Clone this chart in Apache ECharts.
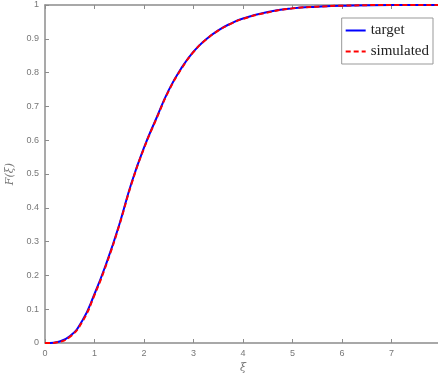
<!DOCTYPE html>
<html>
<head>
<meta charset="utf-8">
<script src="https://cdn.jsdelivr.net/npm/echarts@6/dist/echarts.min.js"></script>
<style>
  html, body { margin: 0; padding: 0; background: #fff; }
  #chart { width: 438px; height: 373px; }
</style>
</head>
<body>
<div id="chart"></div>
<script>
// 读图得到的 CDF 数据
const xi = [0, 0.1, 0.25, 0.5, 0.75, 1.0, 1.25, 1.5, 1.75, 2.0, 2.25, 2.5, 2.75, 3.0, 3.25, 3.5, 3.75, 4.0, 4.5, 5.0, 5.5, 6.0, 7.0, 8.0]
const target = [0, 0, 0.003, 0.02, 0.065, 0.145, 0.24, 0.35, 0.475, 0.578, 0.665, 0.748, 0.812, 0.862, 0.898, 0.925, 0.945, 0.96, 0.979, 0.99, 0.995, 0.998, 1.0, 1.0]
const simulated = [0, 0, 0.002, 0.018, 0.062, 0.142, 0.237, 0.348, 0.472, 0.576, 0.663, 0.746, 0.81, 0.861, 0.897, 0.924, 0.944, 0.959, 0.978, 0.99, 0.995, 0.998, 1.0, 1.0]
const xTicks = [0, 1, 2, 3, 4, 5, 6, 7]

const chart = echarts.init(document.getElementById('chart'))

const axisGray = '#8c8c8c'
const labelGray = '#777'

const option = {
  animation: false,
  grid: { left: 45, top: 5, right: -3, bottom: 30, containLabel: false, outerBoundsMode: 'none' },
  legend: {
    right: 5,
    top: 18,
    orient: 'vertical',
    itemWidth: 20,
    itemHeight: 8,
    itemGap: 6,
    padding: [5, 4, 5, 4],
    borderColor: '#999',
    borderWidth: 1,
    backgroundColor: '#fff',
    textStyle: { fontFamily: 'Liberation Serif', fontSize: 15, color: '#222' },
    data: [
      { name: 'target', icon: 'path://M0,0 L20,0 L20,2 L0,2 Z' },
      { name: 'simulated', icon: 'path://M0,0 L5,0 L5,2 L0,2 Z M8,0 L13,0 L13,2 L8,2 Z M16,0 L20,0 L20,2 L16,2 Z' }
    ]
  },
  xAxis: [
    {
      type: 'value',
      min: 0,
      max: 8,
      interval: 1,
      name: 'ξ',
      nameLocation: 'middle',
      nameGap: 20,
      nameTextStyle: { fontFamily: 'DejaVu Serif', fontStyle: 'italic', fontSize: 11, color: labelGray },
      axisLine: { show: true, lineStyle: { color: axisGray, width: 1.5 } },
      axisTick: { show: true, inside: true, length: 4, lineStyle: { color: axisGray } },
      axisLabel: {
        fontSize: 9,
        color: labelGray,
        margin: 6,
        formatter: v => (xTicks.includes(v) ? String(v) : '')
      },
      splitLine: { show: false }
    },
    {
      type: 'value',
      position: 'top',
      min: 0,
      max: 8,
      interval: 1,
      axisLine: { show: true, lineStyle: { color: axisGray, width: 1.5 } },
      axisTick: { show: true, inside: true, length: 4, lineStyle: { color: axisGray } },
      axisLabel: { show: false },
      splitLine: { show: false }
    }
  ],
  yAxis: {
    type: 'value',
    min: 0,
    max: 1,
    interval: 0.1,
    name: 'F(ξ)',
    nameLocation: 'middle',
    nameGap: 18,
    nameTextStyle: { fontFamily: 'DejaVu Serif', fontStyle: 'italic', fontSize: 11, color: labelGray },
    axisLine: { show: true, lineStyle: { color: axisGray, width: 1.5 } },
    axisTick: { show: true, inside: true, length: 4, lineStyle: { color: axisGray } },
    axisLabel: {
      fontSize: 9,
      color: labelGray,
      margin: 6,
      formatter: v => String(Math.round(v * 10) / 10)
    },
    splitLine: { show: false }
  },
  series: [
    {
      name: 'target',
      type: 'line',
      smooth: 0.5,
      showSymbol: false,
      data: xi.map((x, i) => [x, target[i]]),
      lineStyle: { color: '#0000ff', width: 2 },
      itemStyle: { color: '#0000ff' }
    },
    {
      name: 'simulated',
      type: 'line',
      smooth: 0.5,
      showSymbol: false,
      data: xi.map((x, i) => [x, simulated[i]]),
      lineStyle: { color: '#ff0000', width: 2, type: [5, 3] },
      itemStyle: { color: '#ff0000' }
    }
  ]
}

chart.setOption(option)
</script>
</body>
</html>
